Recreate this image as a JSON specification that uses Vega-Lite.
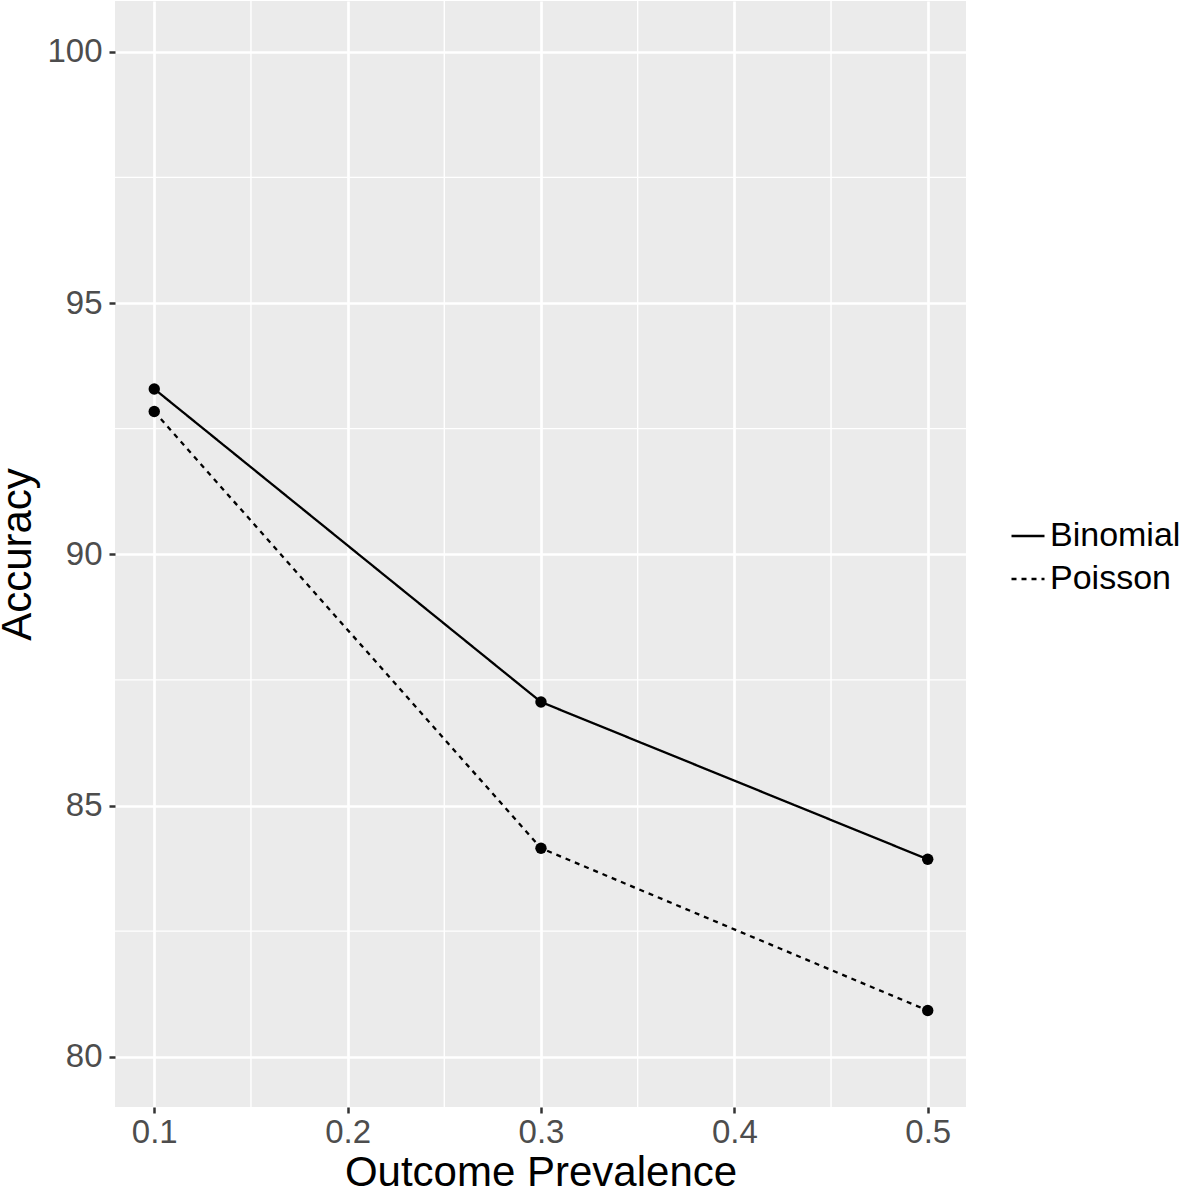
{
  "$schema": "https://vega.github.io/schema/vega-lite/v6.json",
  "width": 851,
  "height": 1106,
  "autosize": {"type": "none"},
  "padding": {"left": 115, "top": 1, "right": 215, "bottom": 84},
  "background": "white",
  "config": {
    "view": {"fill": "#EBEBEB", "stroke": null},
    "font": "Liberation Sans",
    "axis": {
      "gridColor": "white",
      "gridWidth": 2.7,
      "domain": false,
      "tickColor": "#333333",
      "tickWidth": 2.5,
      "tickSize": 6,
      "labelColor": "#4D4D4D",
      "labelFontSize": 33,
      "labelFont": "Liberation Sans",
      "titleFont": "Liberation Sans",
      "titleFontSize": 42,
      "titleFontWeight": "normal",
      "titleColor": "black"
    }
  },
  "datasets": {
    "acc": [
      {"prevalence": 0.1, "accuracy": 93.29, "model": "Binomial"},
      {"prevalence": 0.3, "accuracy": 87.06, "model": "Binomial"},
      {"prevalence": 0.5, "accuracy": 83.93, "model": "Binomial"},
      {"prevalence": 0.1, "accuracy": 92.84, "model": "Poisson"},
      {"prevalence": 0.3, "accuracy": 84.15, "model": "Poisson"},
      {"prevalence": 0.5, "accuracy": 80.92, "model": "Poisson"}
    ],
    "minorY": [{"v": 82.5}, {"v": 87.5}, {"v": 92.5}, {"v": 97.5}],
    "minorX": [{"v": 0.15}, {"v": 0.25}, {"v": 0.35}, {"v": 0.45}]
  },
  "layer": [
    {
      "data": {"name": "minorY"},
      "mark": {"type": "rule", "color": "white", "strokeWidth": 1.4},
      "encoding": {
        "y": {"field": "v", "type": "quantitative", "scale": {"domain": [79.0, 101.01], "nice": false, "zero": false}}
      }
    },
    {
      "data": {"name": "minorX"},
      "mark": {"type": "rule", "color": "white", "strokeWidth": 1.4},
      "encoding": {
        "x": {"field": "v", "type": "quantitative", "scale": {"domain": [0.0797, 0.5198], "nice": false, "zero": false}}
      }
    },
    {
      "data": {"name": "acc"},
      "mark": {"type": "line", "color": "black", "strokeWidth": 2.3},
      "encoding": {
        "x": {
          "field": "prevalence", "type": "quantitative",
          "scale": {"domain": [0.0797, 0.5198], "nice": false, "zero": false},
          "axis": {"values": [0.1, 0.2, 0.3, 0.4, 0.5], "format": ".1f", "title": "Outcome Prevalence", "labelPadding": 3, "titlePadding": 3}
        },
        "y": {
          "field": "accuracy", "type": "quantitative",
          "scale": {"domain": [79.0, 101.01], "nice": false, "zero": false},
          "axis": {"values": [80, 85, 90, 95, 100], "title": "Accuracy", "labelPadding": 7, "titlePadding": 7}
        },
        "strokeDash": {
          "field": "model", "type": "nominal",
          "scale": {"domain": ["Binomial", "Poisson"], "range": [[1, 0], [5, 5]]},
          "legend": {
            "title": null,
            "orient": "none",
            "legendX": 895,
            "legendY": 517,
            "padding": 0,
            "symbolType": "stroke",
            "symbolSize": 1089,
            "symbolStrokeWidth": 2.3,
            "symbolStrokeColor": "black",
            "labelFontSize": 34,
            "labelColor": "black",
            "labelFont": "Liberation Sans",
            "labelOffset": 4,
            "rowPadding": 8
          }
        }
      }
    },
    {
      "data": {"name": "acc"},
      "mark": {"type": "point", "filled": true, "color": "black", "size": 130, "opacity": 1},
      "encoding": {
        "x": {"field": "prevalence", "type": "quantitative"},
        "y": {"field": "accuracy", "type": "quantitative"}
      }
    }
  ]
}
